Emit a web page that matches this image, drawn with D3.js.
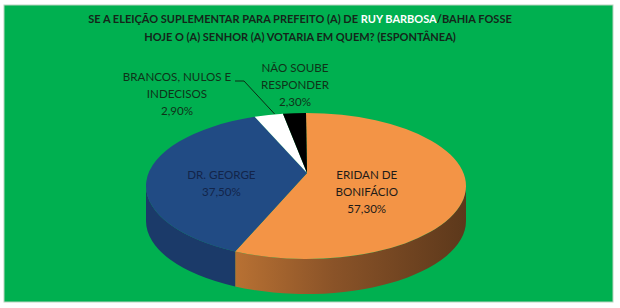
<!doctype html>
<html>
<head>
    <meta charset="UTF-8">
    <title>Pesquisa Ruy Barbosa</title>
    <script src="https://d3js.org/d3.v7.min.js"></script>
    <style>
        body { margin: 0; background: #fff; }
        text { font-family: Lato, "Open Sans", sans-serif; }
    </style>
</head>
<body>
<script>
    // dados
    var categories = ["ERIDAN DE BONIFÁCIO", "DR. GEORGE", "BRANCOS, NULOS E INDECISOS", "NÃO SOUBE RESPONDER"];
    var values = [57.3, 37.5, 2.9, 2.3];
    var labelLines = [["ERIDAN DE", "BONIFÁCIO"], ["DR. GEORGE"], ["BRANCOS, NULOS E", "INDECISOS"], ["NÃO SOUBE", "RESPONDER"]];
    var titleLine1 = ["SE A ELEIÇÃO SUPLEMENTAR PARA PREFEITO (A) DE ", "RUY BARBOSA", "/BAHIA FOSSE"];
    var titleLine2 = "HOJE O (A) SENHOR (A) VOTARIA EM QUEM? (ESPONTÂNEA)";

    var w = 620, h = 308;
    var cx = 306, cy = 186, rx = 160, ry = 73, depth = 35;
    var vx = 307, vy = 173; // vértice (perspectiva)

    var topColors = ["#f39446", "#214b84", "#ffffff", "#000000"];
    var sideColors = ["url(#sideOrange)", "#1b3a69", "#cfcfcf", "#111"];
    var textColors = ["#1f1b18", "#13254a", "#0f3319", "#0f3319"];

    var ptBr = d3.formatLocale({decimal: ",", thousands: ".", grouping: [3], currency: ["R$", ""]});
    var fmt = function (v) { return ptBr.format(".2f")(v) + "%"; };

    var svg = d3.select("body").append("svg").attr("width", w).attr("height", h);

    var defs = svg.append("defs");
    var g1 = defs.append("linearGradient").attr("id", "sideOrange")
        .attr("gradientUnits", "userSpaceOnUse")
        .attr("x1", 225).attr("y1", 0).attr("x2", 466).attr("y2", 0);
    g1.append("stop").attr("offset", "0%").attr("stop-color", "#bd7434");
    g1.append("stop").attr("offset", "45%").attr("stop-color", "#8a5328");
    g1.append("stop").attr("offset", "100%").attr("stop-color", "#5c381b");

    svg.append("rect")
        .attr("x", 4).attr("y", 5).attr("width", 609).attr("height", 297)
        .attr("fill", "#00b050").attr("stroke", "#b9d3c0").attr("stroke-width", 1);

    // título
    var t1 = svg.append("text").attr("x", 300).attr("y", 23)
        .attr("text-anchor", "middle").attr("font-size", 11).attr("font-weight", "bold");
    t1.selectAll("tspan").data(titleLine1).enter().append("tspan")
        .attr("fill", function (d, i) { return i == 1 ? "#ffffff" : "#14261a"; })
        .text(function (d) { return d; });
    svg.append("text").attr("x", 300).attr("y", 41)
        .attr("text-anchor", "middle").attr("font-size", 11).attr("font-weight", "bold")
        .attr("fill", "#14261a").text(titleLine2);

    var pie = d3.pie().sort(null).value(function (d) { return d; });
    var arcs = pie(values);

    function pt(a, dy) {
        return [cx + rx * Math.sin(a), cy - ry * Math.cos(a) + (dy || 0)];
    }

    function topPath(d) {
        var p0 = pt(d.startAngle), p1 = pt(d.endAngle);
        var large = (d.endAngle - d.startAngle) > Math.PI ? 1 : 0;
        return "M" + vx + "," + vy + "L" + p0 + "A" + rx + "," + ry + " 0 " + large + " 1 " + p1 + "Z";
    }

    function sidePath(d) {
        var a0 = Math.max(d.startAngle, Math.PI / 2), a1 = Math.min(d.endAngle, 3 * Math.PI / 2);
        if (a1 <= a0) return null;
        var p0 = pt(a0), p1 = pt(a1), q0 = pt(a0, depth), q1 = pt(a1, depth);
        return "M" + p0 + "A" + rx + "," + ry + " 0 0 1 " + p1 + "L" + q1 +
            "A" + rx + "," + ry + " 0 0 0 " + q0 + "Z";
    }

    // lateral
    svg.selectAll("path.side").data(arcs).enter().append("path")
        .attr("class", "side")
        .attr("d", sidePath)
        .attr("fill", function (d, i) { return sideColors[i]; });

    // topo
    svg.selectAll("path.top").data(arcs).enter().append("path")
        .attr("class", "top")
        .attr("d", topPath)
        .attr("fill", function (d, i) { return topColors[i]; });

    // rótulos
    var labelFactor = [0.39, 0.53];
    var outsidePos = [null, null, [177, 81], [295, 72]];
    var lh = 17;

    arcs.forEach(function (d, i) {
        var lines = labelLines[i].concat([fmt(values[i])]);
        var x, y;
        if (i < 2) {
            var m = (d.startAngle + d.endAngle) / 2;
            x = cx + rx * labelFactor[i] * Math.sin(m);
            y = cy - ry * labelFactor[i] * Math.cos(m) - (lines.length - 1) * lh / 2 + 4;
        } else {
            x = outsidePos[i][0];
            y = outsidePos[i][1];
        }
        var t = svg.append("text").attr("text-anchor", "middle")
            .attr("font-size", 11.6).attr("fill", textColors[i]);
        t.selectAll("tspan").data(lines).enter().append("tspan")
            .attr("x", x).attr("y", function (l, j) { return y + j * lh; })
            .text(function (l) { return l; });
    });

    // linha guia
    var wm = (arcs[2].startAngle + arcs[2].endAngle) / 2;
    var end = pt(wm);
    svg.append("polyline")
        .attr("points", [[235, 81], [244, 81], [end[0] + 6, end[1] - 1]].join(" "))
        .attr("fill", "none").attr("stroke", "#0d2a14").attr("stroke-width", 1);
</script>
</body>
</html>
